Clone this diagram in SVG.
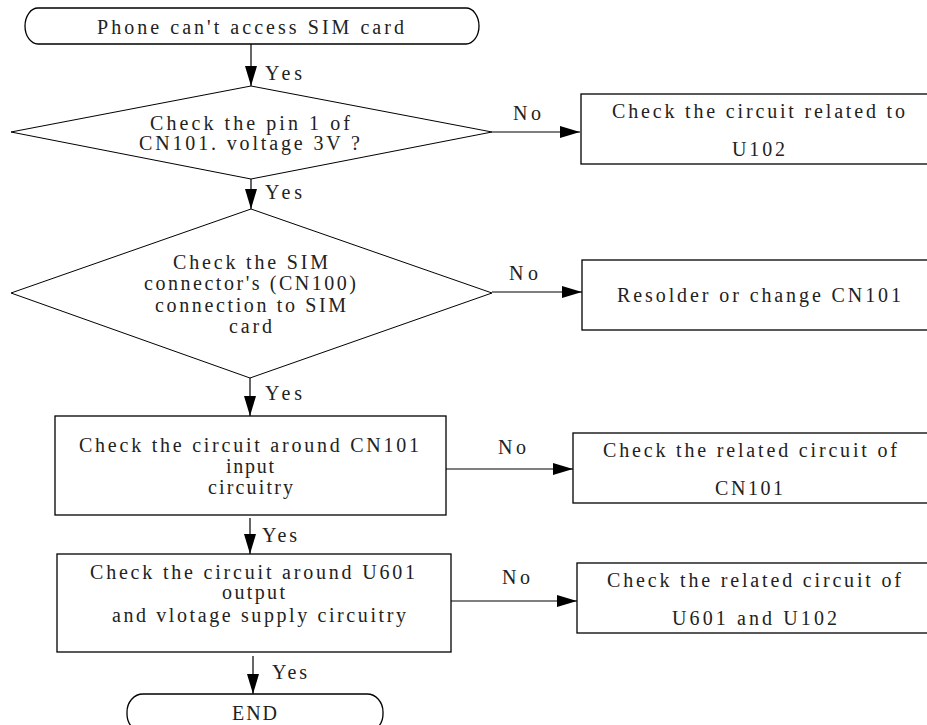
<svg xmlns="http://www.w3.org/2000/svg" width="927" height="725" viewBox="0 0 927 725">
<defs>
<marker id="ah" markerUnits="userSpaceOnUse" markerWidth="20" markerHeight="12" refX="20" refY="6" orient="auto">
<path d="M0,0 L20,6 L0,12 z" fill="#000"/>
</marker>
<style>
.shape{fill:#fff;stroke:#000;stroke-width:1.3}
.dia{fill:#fff;stroke:#000;stroke-width:1}
.t{font-family:"Liberation Serif","Times New Roman",serif;font-size:20px;fill:#222}
.c{fill:none;stroke:#000;stroke-width:1.2;marker-end:url(#ah)}
</style>
</defs>
<rect width="927" height="725" fill="#fff"/>
<g id="connectors">
<line class="c" x1="251" y1="44" x2="251" y2="86"/>
<line class="c" x1="492" y1="132" x2="580" y2="132"/>
<line class="c" x1="251" y1="179" x2="251" y2="209"/>
<line class="c" x1="492" y1="292" x2="582" y2="292"/>
<line class="c" x1="250" y1="378" x2="250" y2="416"/>
<line class="c" x1="446" y1="469" x2="573" y2="469"/>
<line class="c" x1="250" y1="518" x2="250" y2="554"/>
<line class="c" x1="451" y1="601" x2="577" y2="601"/>
<line class="c" x1="253" y1="656" x2="253" y2="694"/>
<text class="t" x="265" y="80" textLength="37" lengthAdjust="spacing">Yes</text>
<text class="t" x="265" y="199" textLength="37" lengthAdjust="spacing">Yes</text>
<text class="t" x="265" y="400" textLength="37" lengthAdjust="spacing">Yes</text>
<text class="t" x="262" y="542" textLength="35" lengthAdjust="spacing">Yes</text>
<text class="t" x="272" y="679" textLength="35" lengthAdjust="spacing">Yes</text>
<text class="t" x="513" y="120" textLength="28" lengthAdjust="spacing">No</text>
<text class="t" x="509" y="280" textLength="29" lengthAdjust="spacing">No</text>
<text class="t" x="498" y="454" textLength="28" lengthAdjust="spacing">No</text>
<text class="t" x="502" y="584" textLength="28" lengthAdjust="spacing">No</text>
</g>
<g id="start">
<rect class="shape" x="25" y="8" width="454" height="36" rx="13" ry="18"/>
<text class="t" x="97" y="34" textLength="307" lengthAdjust="spacing">Phone can't access SIM card</text>
</g>
<g id="decision1">
<polygon class="dia" points="251,86 492,132 251,179 11,132"/>
<text class="t" x="150" y="130" textLength="200" lengthAdjust="spacing">Check the pin 1 of</text>
<text class="t" x="139" y="150" textLength="221" lengthAdjust="spacing">CN101. voltage 3V ?</text>
</g>
<g id="fix-u102">
<rect class="shape" x="581" y="94" width="360" height="70"/>
<text class="t" x="612" y="118" textLength="293" lengthAdjust="spacing">Check the circuit related to</text>
<text class="t" x="732" y="156" textLength="53" lengthAdjust="spacing">U102</text>
</g>
<g id="decision2">
<polygon class="dia" points="251,209 492,293 250,378 11,293"/>
<text class="t" x="173" y="269" textLength="155" lengthAdjust="spacing">Check the SIM</text>
<text class="t" x="144" y="290" textLength="212" lengthAdjust="spacing">connector's (CN100)</text>
<text class="t" x="155" y="312" textLength="191" lengthAdjust="spacing">connection to SIM</text>
<text class="t" x="229" y="333" textLength="43" lengthAdjust="spacing">card</text>
</g>
<g id="resolder">
<rect class="shape" x="582" y="260" width="360" height="70"/>
<text class="t" x="617" y="302" textLength="284" lengthAdjust="spacing">Resolder or change CN101</text>
</g>
<g id="check-cn101">
<rect class="shape" x="55" y="416" width="391" height="99"/>
<text class="t" x="79" y="452" textLength="340" lengthAdjust="spacing">Check the circuit around CN101</text>
<text class="t" x="226" y="473" textLength="48" lengthAdjust="spacing">input</text>
<text class="t" x="208" y="494" textLength="85" lengthAdjust="spacing">circuitry</text>
</g>
<g id="fix-cn101">
<rect class="shape" x="573" y="433" width="370" height="70"/>
<text class="t" x="603" y="457" textLength="294" lengthAdjust="spacing">Check the related circuit of</text>
<text class="t" x="715" y="495" textLength="68" lengthAdjust="spacing">CN101</text>
</g>
<g id="check-u601">
<rect class="shape" x="57" y="554" width="394" height="98"/>
<text class="t" x="90" y="579" textLength="325" lengthAdjust="spacing">Check the circuit around U601</text>
<text class="t" x="222" y="599" textLength="63" lengthAdjust="spacing">output</text>
<text class="t" x="112" y="622" textLength="294" lengthAdjust="spacing">and vlotage supply circuitry</text>
</g>
<g id="fix-u601">
<rect class="shape" x="577" y="563" width="370" height="70"/>
<text class="t" x="607" y="587" textLength="294" lengthAdjust="spacing">Check the related circuit of</text>
<text class="t" x="672" y="625" textLength="165" lengthAdjust="spacing">U601 and U102</text>
</g>
<g id="end">
<rect class="shape" x="127" y="694" width="256" height="38" rx="16" ry="18"/>
<text class="t" x="232" y="720" textLength="45" lengthAdjust="spacing">END</text>
</g>
</svg>
